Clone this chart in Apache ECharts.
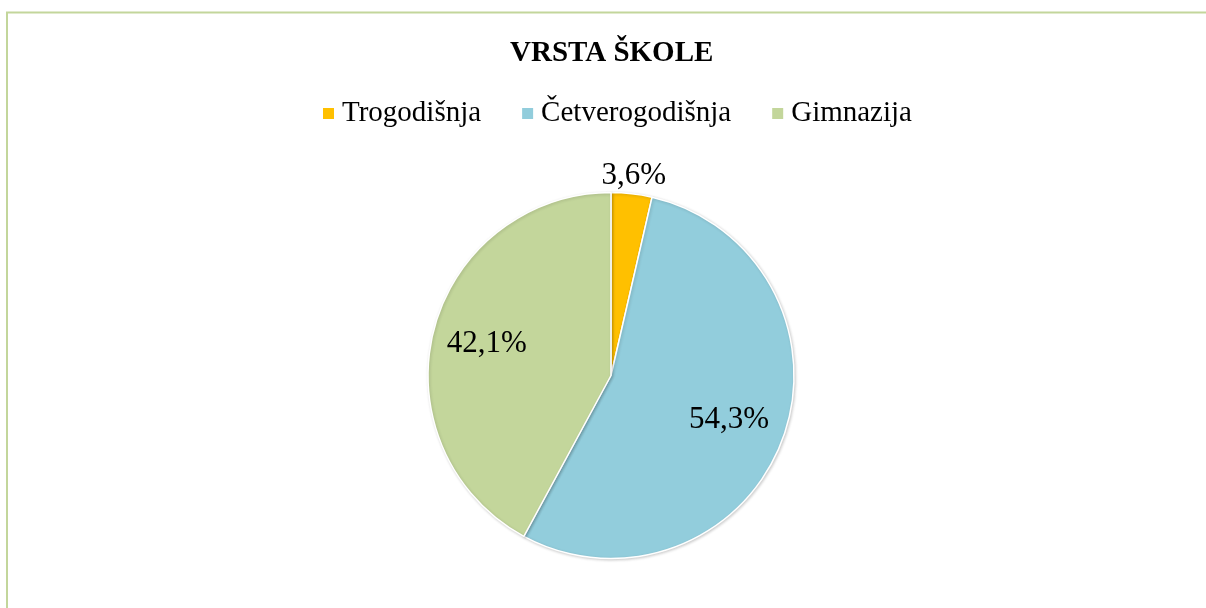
<!DOCTYPE html>
<html>
<head>
<meta charset="utf-8">
<script src="https://cdn.jsdelivr.net/npm/echarts@6/dist/echarts.min.js"></script>
<style>
  html, body { margin: 0; padding: 0; background: #fff; }
  #main { width: 1206px; height: 608px; }
</style>
</head>
<body>
<div id="main"></div>
<script>
// podaci
const categories = ['Trogodišnja', 'Četverogodišnja', 'Gimnazija'];
const values = [3.6, 54.3, 42.1];
const colors = ['#ffc000', '#92cddc', '#c3d69b'];

// raspored
const cx = 611, cy = 375.5, R = 183;
const labelRadius = [1.1, 0.69, 0.70]; // udio radijusa za svaki natpis
const font = '"Liberation Serif", "Times New Roman", serif';

const total = values.reduce((a, b) => a + b, 0);
// srednji kut svakog isječka (u stupnjevima, od vrha, u smjeru kazaljke)
let acc = 0;
const midAngles = values.map(v => {
    const mid = (acc + v / 2) / total * 360;
    acc += v;
    return mid;
});

const chart = echarts.init(document.getElementById('main'));
const option = {
    animation: false,
    backgroundColor: '#fff',
    color: colors,
    title: {
        text: 'VRSTA ŠKOLE',
        left: 505,
        top: 34,
        textStyle: {
            fontFamily: font,
            fontSize: 29,
            fontWeight: 'bold',
            color: '#000'
        }
    },
    legend: {
        data: categories,
        left: 316,
        top: 94,
        icon: 'rect',
        itemWidth: 13,
        itemHeight: 13,
        itemGap: 39,
        textStyle: {
            fontFamily: font,
            fontSize: 29,
            color: '#000',
            padding: [0, 0, 0, 2]
        }
    },
    graphic: [{
        type: 'polyline',
        shape: { points: [[7, 620], [7, 12.5], [1220, 12.5]] },
        style: { stroke: '#c3d69b', lineWidth: 2, fill: null },
        silent: true
    }],
    series: [{
        type: 'pie',
        center: [cx, cy],
        radius: R,
        startAngle: 90,
        clockwise: true,
        silent: true,
        emphasis: { disabled: true },
        itemStyle: {
            borderColor: '#fff',
            borderWidth: 1.5,
            shadowBlur: 3,
            shadowOffsetX: 1,
            shadowOffsetY: 1,
            shadowColor: 'rgba(0,0,0,0.18)'
        },
        label: {
            show: true,
            position: 'inside',
            fontFamily: font,
            fontSize: 31,
            color: '#000',
            formatter: p => p.value.toFixed(1).replace('.', ',') + '%'
        },
        labelLine: { show: false },
        labelLayout: function (params) {
            const i = params.dataIndex;
            const a = midAngles[i] * Math.PI / 180;
            const r = R * labelRadius[i];
            return {
                x: cx + Math.sin(a) * r,
                y: cy - Math.cos(a) * r,
                align: 'center',
                verticalAlign: 'middle'
            };
        },
        data: categories.map((name, i) => ({ name: name, value: values[i] }))
    }]
};
chart.setOption(option);
</script>
</body>
</html>
